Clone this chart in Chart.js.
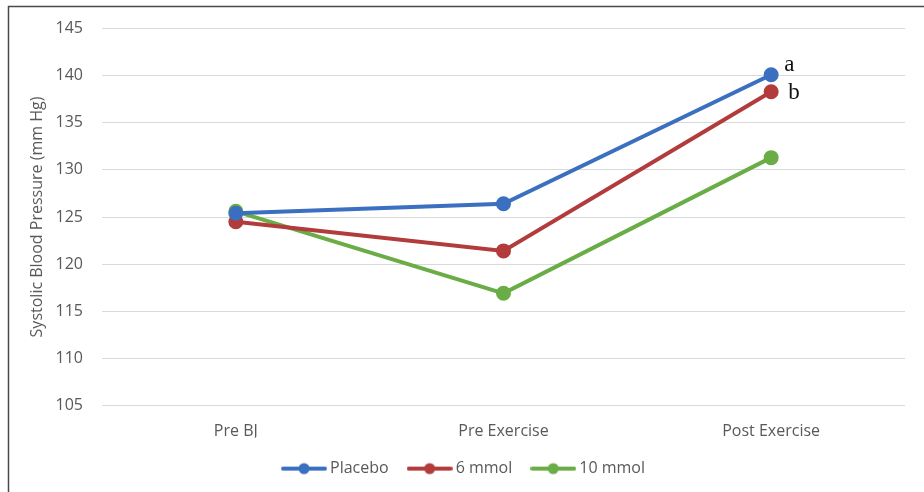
<!DOCTYPE html>
<html>
<head>
<meta charset="utf-8">
<script src="https://cdn.jsdelivr.net/npm/chart.js@4.4.1/dist/chart.umd.min.js"></script>
<style>
  html, body { margin: 0; padding: 0; background: #fff; }
  #wrap { width: 924px; height: 492px; position: relative; }
</style>
</head>
<body>
<div id="wrap"><canvas id="bpChart" width="924" height="492"></canvas></div>
<script>
'use strict';

/* ───── DATA ───── */
const categories = ['Pre BJ', 'Pre Exercise', 'Post Exercise'];
const placebo    = [125.4, 126.4, 140.1];
const mmol6      = [124.5, 121.4, 138.3];
const mmol10     = [125.6, 116.9, 131.3];
const yTicks     = [105, 110, 115, 120, 125, 130, 135, 140, 145];
const sigLabels  = { placebo: 'a', mmol6: 'b' };

const BLUE  = '#3b6fbf';
const RED   = '#b23b3b';
const GREEN = '#6aac45';
const TEXT  = '#595959';
const FONT  = "'Open Sans', 'Liberation Sans', sans-serif";

/* legend swatch: line with a dot in the middle */
function legendSwatch(color) {
    const c = document.createElement('canvas');
    c.width = 46; c.height = 14;
    const g = c.getContext('2d');
    g.strokeStyle = color; g.lineWidth = 4; g.lineCap = 'round';
    g.beginPath(); g.moveTo(2, 7); g.lineTo(44, 7); g.stroke();
    g.fillStyle = color;
    g.beginPath(); g.arc(23, 7, 5.5, 0, Math.PI * 2); g.fill();
    return c;
}

/* frame on left and top edges */
const framePlugin = {
    id: 'frame',
    afterDraw(chart) {
        const { ctx } = chart;
        ctx.save();
        ctx.strokeStyle = '#4a4a4a';
        ctx.lineWidth = 1.5;
        ctx.beginPath();
        ctx.moveTo(8.5, 492); ctx.lineTo(8.5, 6.5); ctx.lineTo(924, 6.5);
        ctx.stroke();
        ctx.restore();
    },
};

/* significance letters next to the last points */
const sigPlugin = {
    id: 'sigLetters',
    afterDatasetsDraw(chart) {
        const { ctx, scales: { x, y } } = chart;
        const last = categories.length - 1;
        ctx.save();
        ctx.fillStyle = '#111';
        ctx.font = "23px 'Liberation Serif', 'DejaVu Serif', serif";
        ctx.textBaseline = 'middle';
        ctx.fillText(sigLabels.placebo, x.getPixelForValue(last) + 13, y.getPixelForValue(placebo[last]) - 10);
        ctx.fillText(sigLabels.mmol6,   x.getPixelForValue(last) + 17, y.getPixelForValue(mmol6[last]) + 1);
        ctx.restore();
    },
};

function series(label, data, color) {
    return {
        label, data,
        borderColor: color, backgroundColor: color,
        pointBackgroundColor: color, pointBorderColor: color,
        borderWidth: 4, pointRadius: 5.5, pointHoverRadius: 5.5,
        tension: 0, fill: false,
    };
}

new Chart(document.getElementById('bpChart').getContext('2d'), {
    type: 'line',
    data: {
        labels: categories,
        datasets: [
            series('Placebo', placebo, BLUE),
            series('6 mmol', mmol6, RED),
            series('10 mmol', mmol10, GREEN),
        ],
    },
    options: {
        responsive: false, animation: false,
        layout: { padding: { left: 26, right: 19, top: 25, bottom: 5.4 } },
        plugins: {
            legend: {
                position: 'bottom',
                labels: {
                    color: TEXT,
                    font: { family: FONT, size: 16 },
                    usePointStyle: true,
                    pointStyleWidth: 36,
                    padding: 23,
                    generateLabels: chart => chart.data.datasets.map((ds, i) => ({
                        text: ds.label,
                        fontColor: TEXT,
                        pointStyle: legendSwatch(ds.borderColor),
                        datasetIndex: i,
                        lineWidth: 0,
                    })),
                },
            },
            tooltip: { enabled: false },
        },
        scales: {
            x: {
                offset: true,
                afterFit: ax => { ax.height -= 19; },
                grid: { display: false, drawTicks: false, offset: true },
                border: { display: false },
                ticks: { color: TEXT, font: { family: FONT, size: 16 }, padding: 16 },
            },
            y: {
                min: 105, max: 145,
                afterBuildTicks: ax => { ax.ticks = yTicks.map(v => ({ value: v })); },
                afterFit: ax => { ax.width = 76; },
                grid: { color: '#d9d9d9', lineWidth: 1, drawTicks: false },
                border: { display: false },
                ticks: { color: TEXT, font: { family: FONT, size: 16 }, padding: 19 },
                title: {
                    display: true,
                    text: 'Systolic Blood Pressure (mm Hg)',
                    color: TEXT,
                    font: { family: FONT, size: 16 },
                    padding: { top: 2, bottom: 0 },
                },
            },
        },
    },
    plugins: [framePlugin, sigPlugin],
});
</script>
</body>
</html>
